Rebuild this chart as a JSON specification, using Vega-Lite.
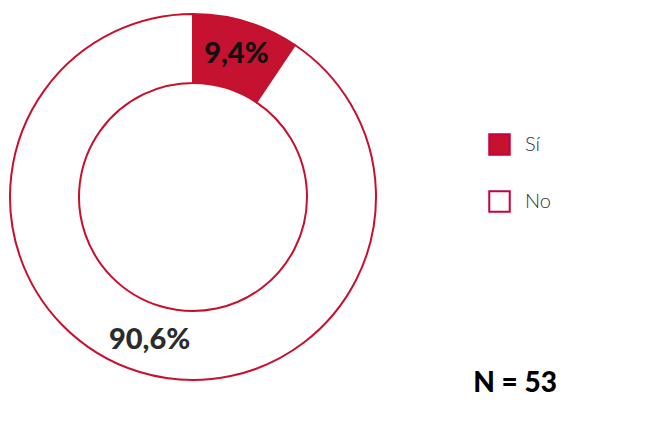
{
  "$schema": "https://vega.github.io/schema/vega-lite/v6.json",
  "width": 386,
  "height": 394,
  "padding": {"left": 0, "top": 0, "right": 275, "bottom": 47},
  "autosize": {"type": "none"},
  "background": "white",
  "view": {"stroke": null},
  "title": {
    "text": "N = 53",
    "orient": "bottom",
    "anchor": "end",
    "frame": "group",
    "align": "right",
    "dx": 171,
    "offset": -24,
    "font": "Lato",
    "fontSize": 28,
    "fontWeight": 900,
    "color": "#000000"
  },
  "data": {
    "values": [
      {"respuesta": "Sí", "porcentaje": 9.4, "etiqueta": "9,4%", "orden": 1},
      {"respuesta": "No", "porcentaje": 90.6, "etiqueta": "90,6%", "orden": 2}
    ]
  },
  "encoding": {
    "theta": {"field": "porcentaje", "type": "quantitative", "stack": true},
    "order": {"field": "orden", "type": "ordinal"}
  },
  "layer": [
    {
      "mark": {"type": "arc", "outerRadius": 183, "innerRadius": 114, "stroke": "#c8102e", "strokeWidth": 2},
      "encoding": {
        "color": {
          "field": "respuesta",
          "type": "nominal",
          "scale": {"domain": ["Sí", "No"], "range": ["#c41230", "#ffffff"]},
          "legend": {
            "title": null,
            "orient": "none",
            "legendX": 488,
            "legendY": 133,
            "symbolType": "square",
            "symbolSize": 420,
            "symbolStrokeColor": "#c8003c",
            "symbolStrokeWidth": 2,
            "labelFont": "Lato",
            "labelFontSize": 20,
            "labelFontWeight": 300,
            "labelColor": "#333333",
            "labelOffset": 14,
            "rowPadding": 28
          }
        }
      }
    },
    {
      "mark": {"type": "text", "radius": 149, "font": "Lato", "fontSize": 29, "fontWeight": 900},
      "encoding": {
        "text": {"field": "etiqueta"},
        "fill": {"condition": {"test": "datum.respuesta === 'Sí'", "value": "#111111"}, "value": "#2b2b2b"}
      }
    }
  ]
}
